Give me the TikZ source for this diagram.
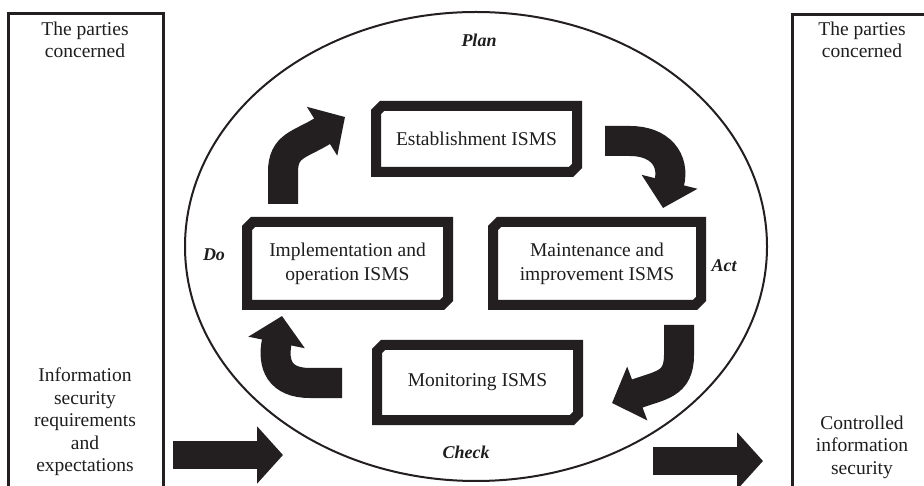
\documentclass[tikz,border=0pt]{standalone}
\usepackage{fontspec}
\setmainfont{Liberation Serif}
\usetikzlibrary{arrows.meta,shapes.misc,shapes.geometric}
\definecolor{ink}{HTML}{231F20}
\definecolor{txt}{HTML}{1E1E1E}
\tikzset{
  txtnode/.style={text=txt,align=center,inner sep=0pt,font=\fontsize{19.5}{22.5}\selectfont},
  phase/.style={text=txt,inner sep=0pt,font=\fontsize{18}{20}\selectfont\bfseries\itshape},
  isms/.style={chamfered rectangle,chamfered rectangle corners={north west,south east},
    chamfered rectangle xsep=3pt,chamfered rectangle ysep=3pt,
    draw=ink,line width=10pt,fill=white,inner sep=0pt,align=center,text=txt,
    font=\fontsize{19.5}{24}\selectfont},
  party/.style={draw=ink,line width=3pt,inner sep=0pt},
  bent/.style={draw=ink,line width=30pt,line cap=butt,-{Triangle[width=56pt,length=27pt]}},
  straight/.style={draw=ink,line width=28pt,line cap=butt,-{Triangle[width=56pt,length=26pt]}}
}
\begin{document}
\begin{tikzpicture}[x=1pt,y=-1pt]
\clip (0,0) rectangle (924,486);
\fill[white] (0,0) rectangle (924,486);
% outer boxes
\node[party,minimum width=155pt,minimum height=520pt,anchor=north west] (lbox) at (7,12) {};
\node[party,minimum width=160pt,minimum height=520pt,anchor=north west] (rbox) at (791,13) {};
\node[txtnode] (ltop) at (85,40) {The parties\\concerned};
\node[txtnode] (lbot) at (85,422) {Information\\security\\requirements\\and\\expectations};
\node[txtnode] (rtop) at (862,40) {The parties\\concerned};
\node[txtnode] (rbot) at (862,447) {Controlled\\information\\security};
% ellipse
\node[draw=ink,line width=2pt,ellipse,minimum width=582pt,minimum height=469pt,inner sep=0pt] (cyc) at (476,246.5) {};
% phase labels
\node[phase] (plan) at (479,40) {Plan};
\node[phase] (do) at (214,255) {Do};
\node[phase] (act) at (724,266) {Act};
\node[phase] (check) at (466,452) {Check};
% ISMS boxes
\node[isms,minimum width=201pt,minimum height=66pt] (est) at (476.5,139) {Establishment ISMS};
\node[isms,minimum width=201pt,minimum height=83pt] (impl) at (347.5,263.5) {Implementation and\\operation ISMS};
\node[isms,minimum width=208pt,minimum height=83pt] (maint) at (597,263.5) {Maintenance and\\improvement ISMS};
\node[isms,minimum width=201pt,minimum height=75pt] (mon) at (477.5,382.5) {Monitoring ISMS};
% bent arrows
\coordinate (a1s) at (283,204); \coordinate (a1e) at (345,117);
\coordinate (a2s) at (605,141); \coordinate (a2e) at (663,208);
\coordinate (a3s) at (679,325); \coordinate (a3e) at (612,403);
\coordinate (a4s) at (342,383); \coordinate (a4e) at (282,316);
\draw[bent] (a1s) -- (283,172) .. controls (283,145) and (300,145) .. (a1e);
\draw[bent] (a2s) -- (630,141) .. controls (660,141) and (675,160) .. (a2e);
\draw[bent] (a3s) -- (679,355) .. controls (679,385) and (660,385) .. (a3e);
\draw[bent] (a4s) -- (310,383) .. controls (280,383) and (272,365) .. (a4e);
% straight arrows
\coordinate (inS) at (173,455); \coordinate (inE) at (283,455);
\coordinate (outS) at (653,461); \coordinate (outE) at (763,461);
\draw[straight] (inS) -- (inE);
\draw[straight] (outS) -- (outE);
\end{tikzpicture}
\end{document}
